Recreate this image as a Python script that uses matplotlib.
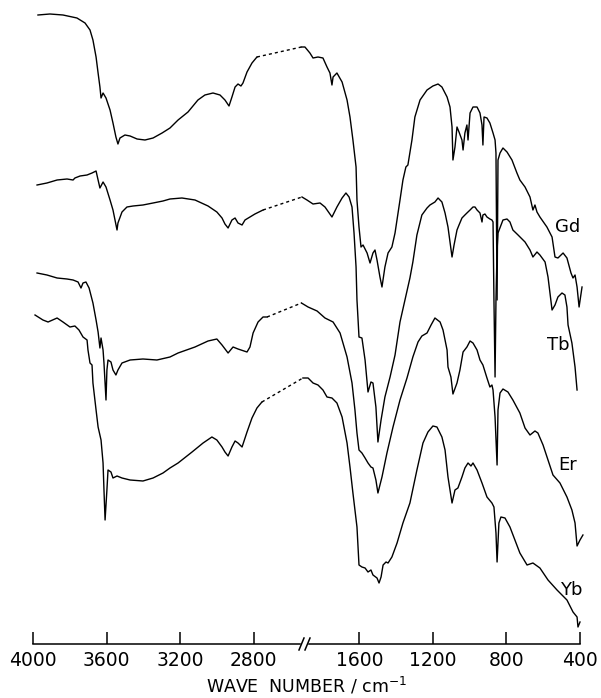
import numpy as np
import matplotlib
matplotlib.use("Agg")
import matplotlib.pyplot as plt
import matplotlib.transforms as mtransforms

# wavenumber (cm-1) and transmittance (arbitrary units, read downward from top of frame)
gd_wn = [3973, 3908, 3837, 3761, 3717, 3690, 3674, 3657, 3646, 3636, 3630, 3619, 3603, 3581, 3565,
         3549, 3538, 3527, 3500, 3472, 3434, 3391, 3347, 3298, 3255, 3211, 3157, 3103, 3065, 3021,
         2983, 2956, 2934, 2918, 2901, 2885, 2869, 2858, 2836, 2809, 2782,
         1915, 1896, 1869, 1852, 1825, 1798, 1776, 1760, 1749, 1743, 1722, 1694, 1667, 1651, 1635,
         1618, 1613, 1602, 1591, 1580, 1558, 1542, 1526, 1515, 1504, 1488, 1477, 1461, 1444, 1423,
         1406, 1379, 1363, 1347, 1336, 1314, 1298, 1270, 1232, 1200, 1172, 1151, 1123, 1107, 1096,
         1091, 1080, 1069, 1058, 1042, 1036, 1026, 1015, 1009, 998, 982, 960, 944, 933, 928, 922,
         906, 890, 873, 862, 857, 851, 846, 835, 819, 797, 770, 743, 727, 699, 672, 656, 645, 634,
         618, 580, 552, 536, 520, 492, 471, 449, 438, 427, 416, 405, 389]
gd_t = [15, 14, 15, 18, 23, 30, 40, 57, 73, 87, 98, 93, 98, 110, 123,
        137, 144, 138, 135, 136, 139, 140, 138, 133, 128, 120, 112, 100, 95, 93,
        95, 100, 106, 97, 87, 84, 86, 83, 72, 63, 57,
        47, 47, 53, 58, 57, 58, 67, 73, 85, 77, 73, 82, 100, 117, 140,
        167, 200, 227, 247, 245, 253, 263, 253, 250, 260, 277, 287, 267, 253, 247,
        233, 200, 180, 167, 165, 140, 117, 100, 90, 86, 84, 87, 97, 107, 127,
        160, 147, 127, 132, 140, 150, 133, 125, 140, 113, 107, 107, 113, 125, 145, 117,
        118, 123, 133, 140, 153, 300, 160, 153, 148, 152, 160, 173, 180, 187, 197, 210, 205, 212,
        217, 227, 237, 257, 258, 253, 258, 273, 278, 275, 287, 307, 287]

tb_wn = [3978, 3924, 3869, 3815, 3782, 3772, 3744, 3706, 3679, 3657, 3646, 3636, 3619, 3603, 3581,
         3565, 3554, 3543, 3538, 3516, 3489, 3456, 3402, 3347, 3293, 3255, 3190, 3119, 3048, 3000,
         2972, 2956, 2939, 2918, 2901, 2885, 2863, 2847, 2820, 2793, 2749,
         1912, 1885, 1852, 1814, 1787, 1749, 1722, 1694, 1673, 1656, 1640, 1629, 1618, 1613, 1607,
         1602, 1586, 1569, 1553, 1537, 1526, 1510, 1499, 1482, 1461, 1433, 1406, 1379, 1352, 1325,
         1309, 1287, 1260, 1232, 1216, 1189, 1172, 1151, 1134, 1118, 1096, 1085, 1069, 1058, 1042,
         1026, 1015, 998, 982, 971, 960, 944, 933, 928, 917, 906, 890, 879, 873, 868, 862, 857,
         851, 846, 819, 797, 781, 765, 737, 699, 672, 656, 634, 618, 590, 574, 552, 536, 520, 498,
         482, 471, 465, 444, 427, 416]
tb_t = [185, 183, 180, 179, 180, 178, 176, 175, 173, 171, 180, 188, 182, 187, 200,
        210, 220, 230, 223, 212, 207, 206, 205, 203, 201, 199, 198, 200, 206, 212,
        218, 224, 228, 220, 218, 223, 225, 220, 217, 214, 210,
        197, 200, 204, 203, 207, 217, 207, 198, 193, 197, 207, 233, 267, 300, 320,
        337, 338, 360, 392, 382, 383, 407, 442, 420, 397, 377, 355, 322, 300, 278,
        262, 235, 215, 208, 205, 202, 198, 202, 213, 227, 257, 245, 230, 225, 218,
        215, 213, 210, 207, 207, 210, 213, 222, 215, 214, 217, 219, 220, 222, 300, 377, 300,
        250, 233, 220, 219, 222, 230, 235, 242, 250, 257, 252, 255, 262, 277, 310, 305, 297, 293,
        295, 307, 325, 343, 367, 390]

er_wn = [3978, 3924, 3869, 3815, 3782, 3755, 3739, 3728, 3712, 3695, 3674, 3657, 3646, 3641, 3636,
         3630, 3619, 3614, 3608, 3603, 3598, 3592, 3576, 3565, 3549, 3538, 3516, 3472, 3402, 3326,
         3255, 3211, 3119, 3048, 3000, 2972, 2939, 2912, 2885, 2836, 2820, 2803, 2776, 2749, 2727,
         1915, 1879, 1830, 1787, 1743, 1705, 1667, 1640, 1624, 1613, 1602, 1586, 1569, 1553, 1537,
         1526, 1510, 1499, 1477, 1450, 1417, 1379, 1341, 1309, 1281, 1260, 1232, 1210, 1189, 1161,
         1145, 1123, 1118, 1102, 1091, 1069, 1053, 1036, 1015, 998, 982, 960, 944, 928, 906, 890,
         879, 873, 862, 851, 846, 835, 819, 792, 765, 727, 699, 672, 645, 629, 601, 574, 547, 509,
         471, 444, 427, 416, 400, 384]
er_t = [273, 275, 278, 279, 280, 282, 288, 283, 282, 288, 303, 320, 332, 340, 348,
        338, 350, 363, 383, 400, 370, 360, 362, 370, 375, 370, 363, 360, 359, 360,
        357, 353, 347, 341, 339, 345, 353, 347, 349, 352, 347, 333, 322, 317, 317,
        303, 307, 311, 318, 322, 333, 357, 383, 410, 433, 450, 453, 458, 463, 467,
        468, 480, 493, 477, 453, 427, 400, 378, 357, 342, 336, 333, 325, 318, 322,
        330, 350, 367, 377, 394, 383, 370, 352, 347, 341, 343, 350, 360, 365, 378, 387,
        385, 390, 417, 465, 410, 393, 389, 392, 400, 413, 428, 435, 431, 433, 445, 460, 475, 483,
        497, 510, 523, 546, 540, 535]

yb_wn = [3989, 3946, 3918, 3869, 3837, 3799, 3772, 3750, 3728, 3706, 3701, 3690, 3679, 3674, 3657,
         3646, 3630, 3619, 3614, 3608, 3598, 3592, 3576, 3565, 3543, 3516, 3472, 3402, 3347, 3293,
         3255, 3211, 3135, 3075, 3027, 3000, 2972, 2956, 2939, 2918, 2901, 2885, 2863, 2836, 2809,
         2782, 2755,
         1907, 1879, 1852, 1825, 1798, 1776, 1749, 1722, 1694, 1667, 1651, 1635, 1613, 1602, 1586,
         1569, 1553, 1537, 1526, 1504, 1493, 1482, 1471, 1455, 1444, 1423, 1395, 1363, 1325, 1287,
         1254, 1227, 1200, 1178, 1151, 1134, 1118, 1096, 1080, 1064, 1042, 1026, 1009, 993, 982,
         960, 933, 906, 879, 868, 857, 851, 841, 830, 808, 781, 754, 727, 688, 656, 618, 574, 525,
         471, 438, 416, 411, 400]
yb_t = [315, 320, 322, 318, 322, 327, 326, 330, 337, 340, 350, 363, 365, 383, 410,
        427, 440, 463, 490, 520, 490, 470, 472, 478, 476, 478, 480, 481, 478, 473,
        468, 463, 452, 443, 437, 440, 447, 452, 456, 447, 441, 443, 447, 432, 418,
        408, 402,
        378, 378, 383, 385, 390, 397, 398, 403, 417, 443, 467, 493, 527, 565, 567,
        568, 572, 570, 575, 578, 583, 577, 565, 562, 563, 557, 543, 523, 503, 470,
        443, 432, 426, 427, 437, 450, 477, 503, 490, 488, 477, 468, 463, 466, 463,
        470, 483, 497, 503, 507, 533, 562, 523, 517, 518, 527, 540, 553, 565, 563, 568, 580, 590,
        600, 612, 617, 627, 622]

elements = ["Gd", "Tb", "Er", "Yb"]
label_pos = [(465, 227), (520, 345), (465, 465), (449, 590)]
tick_values = [4000, 3600, 3200, 2800, 1600, 1200, 800, 400]

# the axis is cut between these two wavenumbers
BREAK_LO, BREAK_HI = 1920, 2550


def forward(w):
    return np.interp(w, [0, BREAK_LO, BREAK_HI, 5000], [-3375, -1455, -1450, 1000])


def inverse(u):
    return np.interp(u, [-3375, -1455, -1450, 1000], [0, BREAK_LO, BREAK_HI, 5000])


def draw_spectrum(ax, wn, tr):
    wn = np.asarray(wn)
    tr = np.asarray(tr)
    hi = wn >= BREAK_HI
    lo = wn <= BREAK_LO
    kw = dict(color="black", lw=1.0, clip_on=False)
    ax.plot(wn[hi], tr[hi], **kw)
    ax.plot(wn[lo], tr[lo], **kw)
    i = np.where(hi)[0][-1]
    ax.plot(wn[i:i + 2], tr[i:i + 2], ls=(0, (2.2, 2.2)), **kw)


plt.rcParams["font.family"] = "DejaVu Sans"
fig = plt.figure(figsize=(6.01, 6.98), dpi=100)
ax = fig.add_axes([33 / 601, 54 / 698, 547 / 601, 644 / 698])
ax.set_xscale("function", functions=(forward, inverse))
ax.set_xlim(4000, 400)
ax.set_ylim(644, 0)

for wn, tr in [(gd_wn, gd_t), (tb_wn, tb_t), (er_wn, er_t), (yb_wn, yb_t)]:
    draw_spectrum(ax, wn, tr)

for name, (x, y) in zip(elements, label_pos):
    ax.text(x, y, name, ha="center", va="center", fontsize=13)

for s in ax.spines.values():
    s.set_visible(False)
ax.set_yticks([])
ax.set_xticks(tick_values)
ax.set_xticklabels([str(t) for t in tick_values])
ax.tick_params(axis="x", direction="in", length=8.5, width=1.1, pad=5, labelsize=13.5)
ax.set_xlabel(r"WAVE  NUMBER / cm$^{-1}$", fontsize=12.5, labelpad=4)

# broken baseline with // marks
trans = mtransforms.blended_transform_factory(ax.transData, ax.transAxes)
ax.plot([4000, BREAK_HI], [0, 0], color="black", lw=1.1, transform=trans, clip_on=False)
ax.plot([1874, 400], [0, 0], color="black", lw=1.1, transform=trans, clip_on=False)
for px in (299, 305):
    ax.plot([(px - 33) / 547, (px + 5 - 33) / 547], [-0.0093, 0.0093],
            color="black", lw=1.1, transform=ax.transAxes, clip_on=False)

fig.savefig("out.png", dpi=100)
